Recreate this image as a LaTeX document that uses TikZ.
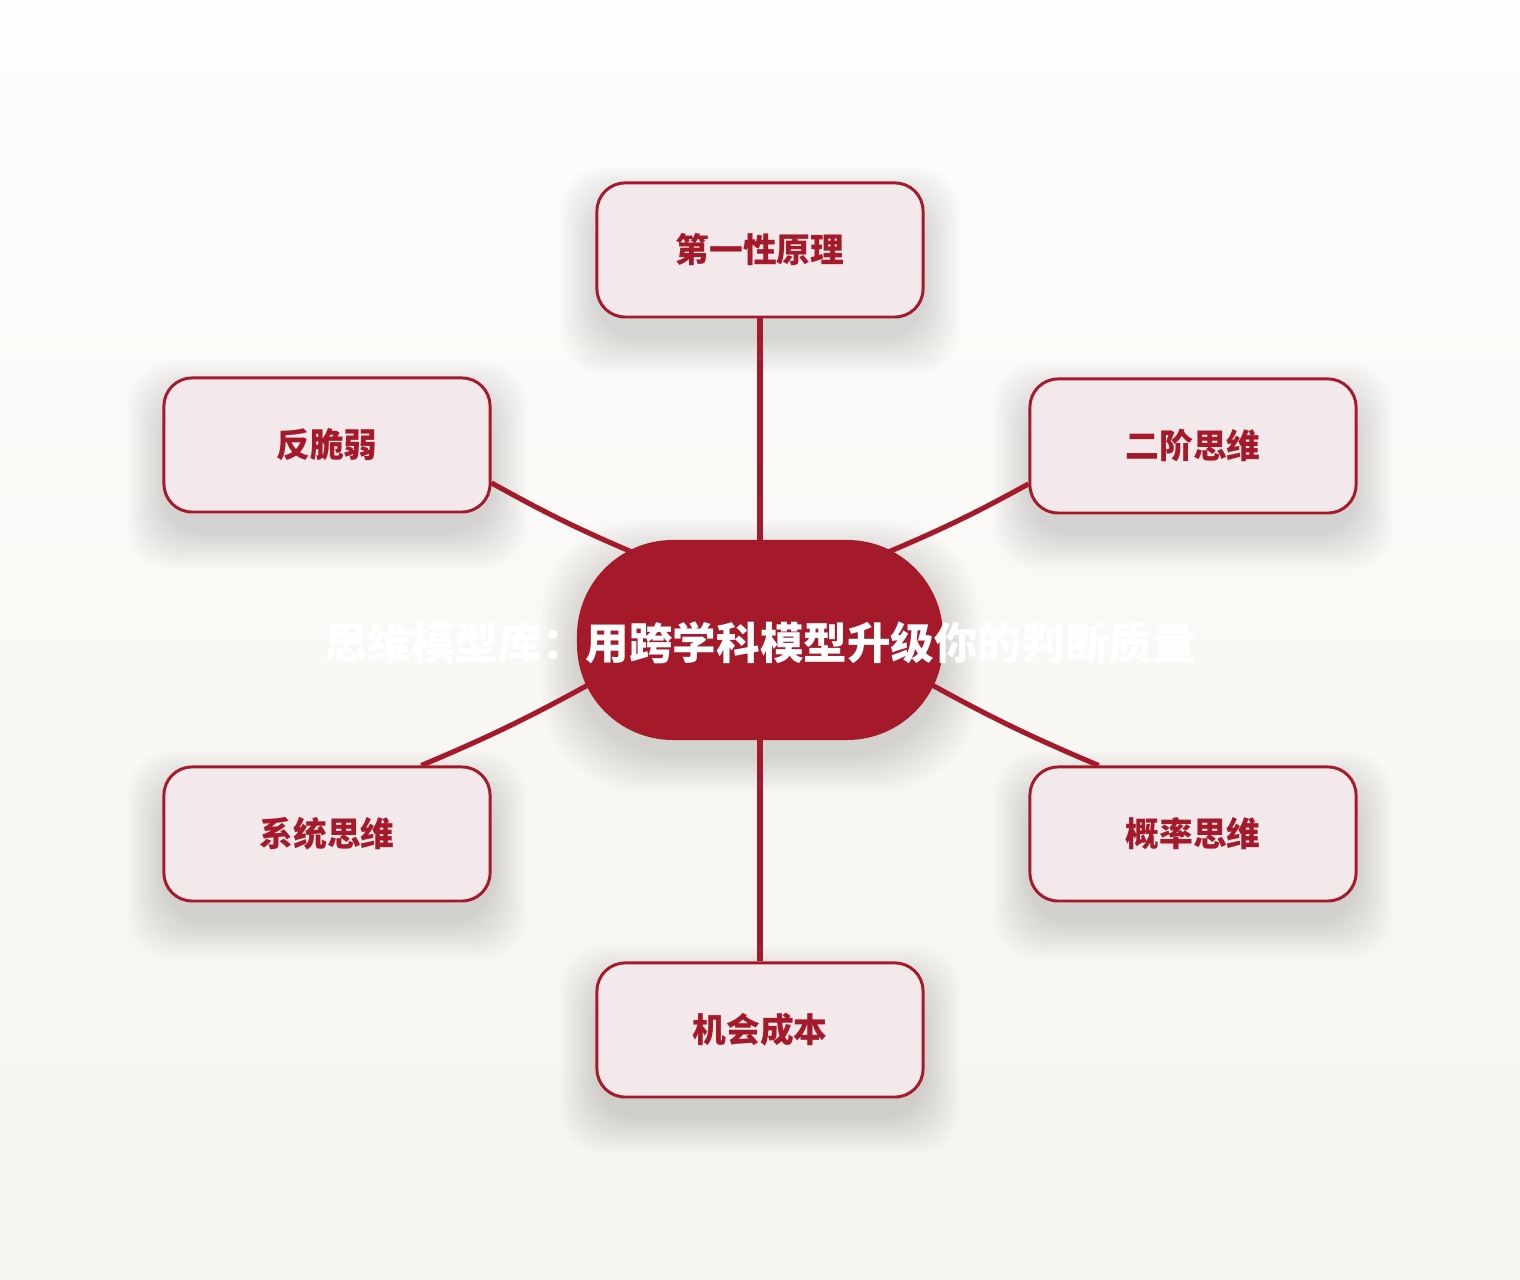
\documentclass[tikz,border=0pt]{standalone}
\usepackage{fontspec}
\usepackage{tikz}
\usetikzlibrary{calc}
\newfontfamily\cjk{Noto Sans CJK SC}
\definecolor{deepred}{HTML}{A51A2A}
\definecolor{boxpink}{HTML}{F3E8EA}
\definecolor{bgtop}{HTML}{FDFDFC}
\definecolor{bgbot}{HTML}{F6F4EF}
\pgfdeclarelayer{back}
\pgfdeclarelayer{links}
\pgfsetlayers{back,links,main}

\begin{document}
\begin{tikzpicture}[x=0.025cm,y=0.025cm]
% Mind map style
\tikzset{
    model/.style={draw=deepred, line width=2.1pt, fill=boxpink, rounded corners=0.7cm,
        minimum width=8.15cm, minimum height=3.35cm, text=deepred,
        font=\cjk\bfseries\fontsize{24}{28}\selectfont},
    core/.style={fill=deepred, rounded corners=2.4cm, minimum width=9.15cm, minimum height=5cm},
    title/.style={text=white, font=\cjk\bfseries\fontsize{31}{36}\selectfont},
    link/.style={draw=deepred, line width=3.6pt},
    haze/.style={fill=black, opacity=0.008}
}
\useasboundingbox (0,0) rectangle (1520,1280);
% Centre
\node[core] (CORE) at (760,640){};
\node[title] (TITLE) at (760,637){思维模型库：用跨学科模型升级你的判断质量};
% Models
\node[model] (BOXa) at (760,1030){第一性原理};
\node[model] (BOXb) at (327,835){反脆弱};
\node[model] (BOXc) at (1193,834){二阶思维};
\node[model] (BOXd) at (327,446){系统思维};
\node[model] (BOXe) at (1193,446){概率思维};
\node[model] (BOXf) at (760,250){机会成本};
% Background and soft shadows
\begin{pgfonlayer}{back}
\shade[top color=bgtop, bottom color=bgbot] (0,0) rectangle (1520,1280);
\foreach \g in {0,2,...,36}
    \fill[haze, rounded corners=2.4cm] ($(CORE.south west)+(-\g,-16-\g)$) rectangle ($(CORE.north east)+(\g,-16+\g)$);
\foreach \n in {BOXa,BOXb,BOXc,BOXd,BOXe,BOXf}
    \foreach \g in {0,2,...,36}
        \fill[haze, rounded corners=1.1cm] ($(\n.south west)+(-\g,-20-\g)$) rectangle ($(\n.north east)+(\g,-20+\g)$);
\end{pgfonlayer}
% Connection
\begin{pgfonlayer}{links}
\draw[link] (CORE) -- (BOXa);
\draw[link] (BOXb.-13) to[bend right=3] ($(CORE)!0.85!(CORE.145)$);
\draw[link] (BOXc.193) to[bend left=3] ($(CORE)!0.85!(CORE.35)$);
\draw[link] (BOXd.36) to[bend right=3] ($(CORE)!0.9!(CORE.194)$);
\draw[link] (BOXe.144) to[bend left=3] ($(CORE)!0.9!(CORE.-14)$);
\draw[link] (CORE) -- (BOXf);
\end{pgfonlayer}
\end{tikzpicture}
\end{document}
